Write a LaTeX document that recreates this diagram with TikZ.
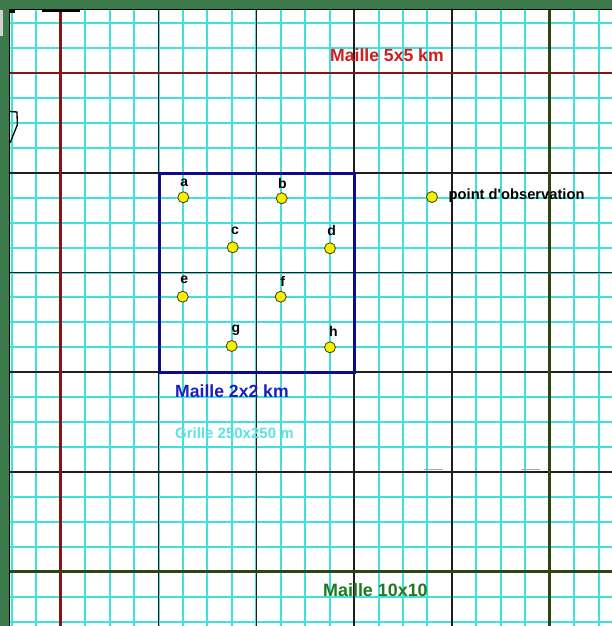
\documentclass[tikz,border=0pt]{standalone}
\usepackage{fontspec}
\newfontfamily\arialb{Liberation Sans}
\definecolor{bordergreen}{HTML}{3D7A4B}
\definecolor{gridcyan}{HTML}{40E0DC}
\definecolor{kmgray}{HTML}{1E1E1E}
\definecolor{redline}{HTML}{8A1414}
\definecolor{redtext}{HTML}{D01E1E}
\definecolor{greenline}{HTML}{2E4512}
\definecolor{greentext}{HTML}{1F7A1F}
\definecolor{boxblue}{HTML}{0C0C8A}
\definecolor{bluetext}{HTML}{1C1CC0}
\definecolor{cyantext}{HTML}{5CE4E4}
\definecolor{dotfill}{HTML}{F5F000}
\definecolor{dotedge}{HTML}{4E4E18}
\begin{document}
\begin{tikzpicture}[x=1pt,y=-1pt,
  cyanline/.style={draw=gridcyan, line width=2pt},
  kmline/.style={draw=kmgray, line width=1.5pt},
  fivekm/.style={draw=redline, line width=2.6pt},
  tenkm/.style={draw=greenline, line width=3.4pt},
  obs/.style={circle, fill=dotfill, draw=dotedge, line width=0.9pt, minimum size=11pt, inner sep=0pt},
  lbl/.style={font=\arialb\bfseries\fontsize{14}{14}\selectfont, inner sep=0pt},
  title/.style={anchor=west, inner sep=0pt, font=\arialb\bfseries\fontsize{17.6}{17.6}\selectfont}
]
\useasboundingbox (0,0) rectangle (612,626);
\fill[white] (0,0) rectangle (612,626);
% frame band
\fill[bordergreen] (0,0) rectangle (612,9.5);
\fill[bordergreen] (0,0) rectangle (9.5,626);
\fill[gray!35] (0,10) rectangle (3,36);
% 250 m grid
\foreach \k in {0,...,24} {
  \draw[cyanline] ({11.8+24.45*\k},9.5) -- ({11.8+24.45*\k},626);
  \draw[cyanline] (9.5,{23.2+24.93*\k}) -- (612,{23.2+24.93*\k});
}
% 1 km lines
\foreach \k in {6,10,14,18} {
  \draw[kmline] ({11.8+24.45*\k},9.5) -- ({11.8+24.45*\k},626);
  \draw[kmline] (9.5,{23.2+24.93*\k}) -- (612,{23.2+24.93*\k});
}
% 5 km lines
\draw[fivekm] ({11.8+24.45*2},9.5) -- ({11.8+24.45*2},626);
\draw[fivekm] (9.5,{23.2+24.93*2}) -- (612,{23.2+24.93*2});
% 10 km lines
\draw[tenkm] ({11.8+24.45*22},9.5) -- ({11.8+24.45*22},626);
\draw[tenkm] (9.5,{23.2+24.93*22}) -- (612,{23.2+24.93*22});
% frame edge and artefacts
\draw[black, line width=1pt] (9.5,626) -- (9.5,9.5) -- (612,9.5);
\fill[black] (9,9.5) rectangle (15,12.7);
\fill[black] (42,9.5) rectangle (80,12.5);
\draw[black, line width=1.3pt] (9.5,111.5) -- (17,112) -- (17.3,125) -- (10,143);
\draw[gray!70, line width=1.2pt] (424,469.5) -- (443,469.5);
\draw[gray!70, line width=1.2pt] (521,469.5) -- (540,469.5);
% 2x2 km box
\draw[boxblue, line width=3pt] (159.5,173.5) rectangle (354.5,372);
% observation points
\node[obs] (a) at (183.3,197.3) {};
\node[obs] (b) at (281.7,198.3) {};
\node[obs] (c) at (232.7,247.3) {};
\node[obs] (d) at (330,248.3) {};
\node[obs] (e) at (182.7,296.7) {};
\node[obs] (f) at (280.7,296.7) {};
\node[obs] (g) at (231.7,346) {};
\node[obs] (h) at (330,347.3) {};
\node[lbl] (la) at (184.3,182.7) {a};
\node[lbl] (lb) at (282.3,183.3) {b};
\node[lbl] (lc) at (235,230.7) {c};
\node[lbl] (ld) at (331.7,230) {d};
\node[lbl] (le) at (184.3,279.3) {e};
\node[lbl] (lf) at (282.7,281.7) {f};
\node[lbl] (lg) at (236,330.7) {g};
\node[lbl] (lh) at (333.3,331.7) {h};
% legend point
\node[obs] (p) at (432,197) {};
\node[anchor=west, inner sep=0pt, font=\arialb\bfseries\fontsize{14.7}{14.7}\selectfont] (pl) at (448.5,196) {point d'observation};
% titles
\node[title, text=redtext] (t5) at (330,55) {Maille 5x5 km};
\node[title, text=bluetext] (t2) at (175,391.5) {Maille 2x2 km};
\node[title, text=cyantext, font=\arialb\bfseries\fontsize{15}{15}\selectfont] (tg) at (175,433) {Grille 250x250 m};
\node[title, text=greentext, font=\arialb\bfseries\fontsize{17.9}{17.9}\selectfont] (t10) at (323,590) {Maille 10x10};
\end{tikzpicture}
\end{document}
